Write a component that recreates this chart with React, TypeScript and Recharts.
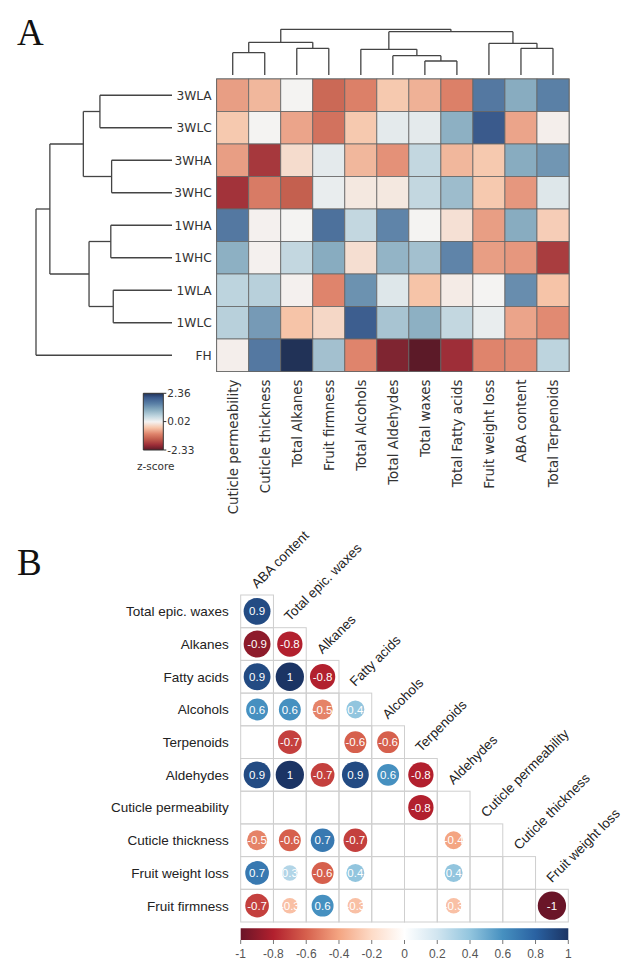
import React from 'react';
import { ReferenceArea, ReferenceLine, Scatter, ScatterChart, XAxis, YAxis } from 'recharts';

const W = 644;
const H = 972;

// ---------- panel A data ----------
const sampleNames = ['3WLA', '3WLC', '3WHA', '3WHC', '1WHA', '1WHC', '1WLA', '1WLC', 'FH'];
const traitNames = [
  'Cuticle permeability',
  'Cuticle thickness',
  'Total Alkanes',
  'Fruit firmness',
  'Total Alcohols',
  'Total Aldehydes',
  'Total waxes',
  'Total Fatty acids',
  'Fruit weight loss',
  'ABA content',
  'Total Terpenoids',
];
// z-scores, one row per sample, columns in traitNames order
const zScores = [
  [-0.8, -0.6, 0.0, -1.3, -1.05, -0.45, -0.65, -1.05, 1.6, 1.0, 1.5],
  [-0.45, 0.0, -0.75, -1.2, -0.45, 0.15, 0.15, 0.95, 2.0, -0.75, -0.05],
  [-0.8, -1.8, -0.25, 0.15, -0.6, -0.9, 0.45, -0.6, -0.45, 1.0, 1.25],
  [-1.85, -1.1, -1.4, 0.1, -0.12, -0.12, 0.45, 0.8, -0.45, -0.85, 0.2],
  [1.6, -0.03, 0.0, 1.7, 0.45, 1.45, 0.0, -0.2, -0.8, 1.0, -0.4],
  [0.95, -0.03, 0.45, 1.0, -0.22, 0.9, 0.75, 1.45, -0.8, -0.85, -1.75],
  [0.5, 0.55, -0.03, -1.0, 1.3, 0.2, -0.5, -0.08, 0.0, 1.35, -0.5],
  [0.55, 1.2, -0.5, -0.3, 1.95, 0.7, 0.95, 0.45, 0.1, -0.75, -0.95],
  [-0.05, 1.6, 2.36, 0.75, -1.0, -2.1, -2.33, -1.9, -1.0, -0.95, 0.5],
];
const zTicks = [-2.33, 0.02, 2.36];
// linkages [left node, right node, height]; leaves are numbered in display order
const rowLinkage: [number, number, number][] = [
  [0, 1, 2.65],
  [2, 3, 2.22],
  [9, 10, 3.26],
  [4, 5, 2.25],
  [6, 7, 2.16],
  [12, 13, 3.05],
  [11, 14, 4.49],
  [15, 8, 5.0],
];
const colLinkage: [number, number, number][] = [
  [0, 1, 2.44],
  [2, 3, 2.92],
  [11, 12, 3.58],
  [6, 7, 1.53],
  [5, 14, 2.11],
  [4, 15, 2.81],
  [9, 10, 2.92],
  [8, 17, 3.47],
  [16, 18, 4.74],
  [13, 19, 5.0],
];

// ---------- panel B data ----------
const corrRowNames = [
  'Total epic. waxes',
  'Alkanes',
  'Fatty acids',
  'Alcohols',
  'Terpenoids',
  'Aldehydes',
  'Cuticle permeability',
  'Cuticle thickness',
  'Fruit weight loss',
  'Fruit firmness',
];
const corrColNames = [
  'ABA content',
  'Total epic. waxes',
  'Alkanes',
  'Fatty acids',
  'Alcohols',
  'Terpenoids',
  'Aldehydes',
  'Cuticle permeability',
  'Cuticle thickness',
  'Fruit weight loss',
];
const corrValues: (number | null)[][] = [
  [0.9],
  [-0.9, -0.8],
  [0.9, 1, -0.8],
  [0.6, 0.6, -0.5, 0.4],
  [null, -0.7, null, -0.6, -0.6],
  [0.9, 1, -0.7, 0.9, 0.6, -0.8],
  [null, null, null, null, null, -0.8, null],
  [-0.5, -0.6, 0.7, -0.7, null, null, -0.4, null],
  [0.7, 0.3, -0.6, 0.4, null, null, 0.4, null, null],
  [-0.7, -0.3, 0.6, -0.3, null, null, -0.3, null, null, -1],
];
const corrTicks = [-1, -0.8, -0.6, -0.4, -0.2, 0, 0.2, 0.4, 0.6, 0.8, 1];

// ---------- colours ----------
const zStops: [number, string][] = [
  [-2.33, '#5c1a28'],
  [-1.9, '#9e2e38'],
  [-1.4, '#c4604f'],
  [-1.0, '#df846c'],
  [-0.5, '#f6c4a8'],
  [0, '#f4f3f2'],
  [0.5, '#bdd4de'],
  [1.0, '#88acc0'],
  [1.5, '#5a80a6'],
  [2.0, '#3a5a8c'],
  [2.36, '#213257'],
];
const rdbuStops: [number, string][] = [
  [-1, '#6a1528'],
  [-0.8, '#b2202e'],
  [-0.6, '#d6604d'],
  [-0.4, '#f4a582'],
  [-0.2, '#fddbc7'],
  [0, '#ffffff'],
  [0.2, '#d1e5f0'],
  [0.4, '#92c5de'],
  [0.6, '#4690c0'],
  [0.8, '#2a62a2'],
  [1, '#1b3464'],
];

function hex(c: string) {
  return [1, 3, 5].map((i) => parseInt(c.slice(i, i + 2), 16));
}
function colorAt(stops: [number, string][], v: number) {
  if (v <= stops[0][0]) return stops[0][1];
  for (let i = 1; i < stops.length; i++) {
    if (v <= stops[i][0]) {
      const [v0, c0] = stops[i - 1];
      const [v1, c1] = stops[i];
      const t = (v - v0) / (v1 - v0);
      const a = hex(c0);
      const b = hex(c1);
      return `rgb(${a.map((x, k) => Math.round(x + (b[k] - x) * t)).join(',')})`;
    }
  }
  return stops[stops.length - 1][1];
}

function linkSegments(links: [number, number, number][], leaves: number) {
  const pos: number[] = [];
  const hgt: number[] = [];
  for (let i = 0; i < leaves; i++) {
    pos.push(i + 0.5);
    hgt.push(0);
  }
  const segs: { p1: number; h1: number; p2: number; h2: number }[] = [];
  links.forEach(([a, b, h]) => {
    segs.push({ p1: pos[a], h1: hgt[a], p2: pos[a], h2: h });
    segs.push({ p1: pos[b], h1: hgt[b], p2: pos[b], h2: h });
    segs.push({ p1: pos[a], h1: h, p2: pos[b], h2: h });
    pos.push((pos[a] + pos[b]) / 2);
    hgt.push(h);
  });
  return segs;
}

// ---------- layout ----------
const hm = { left: 216.7, right: 569, top: 79, bottom: 371.5 };
const cellW = (hm.right - hm.left) / traitNames.length;
const cellH = (hm.bottom - hm.top) / sampleNames.length;
const cb = { left: 240.7, right: 568.3, top: 595, bottom: 922 };
const cW = (cb.right - cb.left) / corrColNames.length;
const cH = (cb.bottom - cb.top) / corrRowNames.length;

const layer: React.CSSProperties = { position: 'absolute', left: 0, top: 0 };
const fontA = 'DejaVu Sans, Verdana, sans-serif';
const fontB = 'Liberation Sans, Arial, sans-serif';

const heatCells = zScores.flatMap((row, r) => row.map((z, c) => ({ x: c + 0.5, y: r + 0.5, z })));

function TraitTick(props: any) {
  const { x, y, payload } = props;
  const name = traitNames[Math.floor(payload.value)];
  return (
    <text
      x={x}
      y={y}
      dy="0.36em"
      transform={`rotate(-90 ${x} ${y})`}
      textAnchor="end"
      fontSize={13.4}
      fontFamily={fontA}
      fill="#333"
    >
      {name}
    </text>
  );
}

function SampleTick(props: any) {
  const { x, y, payload } = props;
  return (
    <text x={x} y={y} dy="0.36em" textAnchor="end" fontSize={12.2} fontFamily={fontA} fill="#333">
      {sampleNames[Math.floor(payload.value)]}
    </text>
  );
}

function HeatCell(props: any) {
  const { cx, cy, payload } = props;
  return (
    <rect
      x={cx - cellW / 2}
      y={cy - cellH / 2}
      width={cellW}
      height={cellH}
      fill={colorAt(zStops, payload.z)}
      stroke="#666"
      strokeWidth={0.8}
    />
  );
}

function Heatmap() {
  return (
    <ScatterChart
      width={W}
      height={H}
      margin={{ top: hm.top, left: hm.left - 60, right: W - hm.right, bottom: H - hm.bottom - 160 }}
    >
      <XAxis
        type="number"
        dataKey="x"
        domain={[0, traitNames.length]}
        ticks={traitNames.map((_, i) => i + 0.5)}
        interval={0}
        height={160}
        tickSize={0}
        tickMargin={8}
        axisLine={false}
        tickLine={false}
        tick={<TraitTick />}
      />
      <YAxis
        type="number"
        dataKey="y"
        domain={[0, sampleNames.length]}
        reversed
        ticks={sampleNames.map((_, i) => i + 0.5)}
        interval={0}
        width={60}
        tickSize={0}
        tickMargin={5}
        axisLine={false}
        tickLine={false}
        tick={<SampleTick />}
      />
      <Scatter data={heatCells} isAnimationActive={false} shape={HeatCell} />
      <ReferenceArea
        x1={0}
        x2={traitNames.length}
        y1={0}
        y2={sampleNames.length}
        fill="none"
        stroke="#555"
        strokeWidth={1.2}
        ifOverflow="visible"
      />
    </ScatterChart>
  );
}

const Nothing = () => <g />;

function ColDendrogram() {
  const segs = linkSegments(colLinkage, traitNames.length);
  const top = Math.max(...colLinkage.map((l) => l[2]));
  return (
    <ScatterChart width={W} height={H} margin={{ top: 29.3, left: hm.left, right: W - hm.right, bottom: H - 75 }}>
      <XAxis type="number" dataKey="x" domain={[0, traitNames.length]} hide />
      <YAxis type="number" dataKey="y" domain={[0, top]} hide />
      <Scatter
        data={traitNames.map((_, i) => ({ x: i + 0.5, y: 0 }))}
        isAnimationActive={false}
        shape={Nothing}
      />
      {segs.map((s, i) => (
        <ReferenceLine
          key={i}
          segment={[
            { x: s.p1, y: s.h1 },
            { x: s.p2, y: s.h2 },
          ]}
          stroke="#444"
          strokeWidth={1.3}
          ifOverflow="visible"
        />
      ))}
    </ScatterChart>
  );
}

function RowDendrogram() {
  const segs = linkSegments(rowLinkage, sampleNames.length);
  const top = Math.max(...rowLinkage.map((l) => l[2]));
  return (
    <ScatterChart width={W} height={H} margin={{ top: hm.top, left: 36, right: W - 172, bottom: H - hm.bottom }}>
      <XAxis type="number" dataKey="x" domain={[0, top]} reversed hide />
      <YAxis type="number" dataKey="y" domain={[0, sampleNames.length]} reversed hide />
      <Scatter
        data={sampleNames.map((_, i) => ({ x: 0, y: i + 0.5 }))}
        isAnimationActive={false}
        shape={Nothing}
      />
      {segs.map((s, i) => (
        <ReferenceLine
          key={i}
          segment={[
            { x: s.h1, y: s.p1 },
            { x: s.h2, y: s.p2 },
          ]}
          stroke="#444"
          strokeWidth={1.3}
          ifOverflow="visible"
        />
      ))}
    </ScatterChart>
  );
}

function ZColorbar() {
  const zMin = zTicks[0];
  const zMax = zTicks[zTicks.length - 1];
  return (
    <ScatterChart width={W} height={H} margin={{ top: 393.3, left: 143.3, right: W - 163.3 - 40, bottom: H - 450 }}>
      <defs>
        <linearGradient id="zbar" x1="0" y1="0" x2="0" y2="1">
          {zStops
            .slice()
            .reverse()
            .map(([v, c]) => (
              <stop key={v} offset={(zMax - v) / (zMax - zMin)} stopColor={c} />
            ))}
        </linearGradient>
      </defs>
      <XAxis type="number" dataKey="x" domain={[0, 1]} hide />
      <YAxis
        type="number"
        dataKey="y"
        orientation="right"
        domain={[zMin, zMax]}
        ticks={zTicks}
        interval={0}
        width={40}
        tickSize={3}
        tickMargin={1}
        axisLine={false}
        tickLine={{ stroke: '#333' }}
        tick={{ fontSize: 10.5, fill: '#333', fontFamily: fontA }}
        tickFormatter={(v: number) => v.toFixed(2)}
      />
      <Scatter data={[{ x: 0, y: zMin }, { x: 1, y: zMax }]} isAnimationActive={false} shape={Nothing} />
      <ReferenceArea x1={0} x2={1} y1={zMin} y2={zMax} fill="url(#zbar)" fillOpacity={1} stroke="#333" strokeWidth={1} />
      <text x={137} y={466} dy="0.36em" fontSize={10.5} fontFamily={fontA} fill="#333">
        z-score
      </text>
    </ScatterChart>
  );
}

const gridCells = corrRowNames.flatMap((_, i) =>
  corrColNames.slice(0, i + 1).map((__, j) => ({ x: j + 0.5, y: i + 0.5 }))
);
const corrPoints = corrValues.flatMap((row, i) =>
  row.flatMap((v, j) => (v === null ? [] : [{ x: j + 0.5, y: i + 0.5, r: v }]))
);
const colLabelPts = corrColNames.map((name, j) => ({ x: j + 0.5, y: j, name }));

function GridCell(props: any) {
  const { cx, cy } = props;
  return (
    <rect x={cx - cW / 2} y={cy - cH / 2} width={cW} height={cH} fill="none" stroke="#cfcfcf" strokeWidth={1} />
  );
}

function CorrCircle(props: any) {
  const { cx, cy, payload } = props;
  const v = payload.r;
  const rad = cW * 0.432 * Math.sqrt(Math.abs(v));
  const label = Number.isInteger(v) ? String(v) : v.toFixed(1);
  return (
    <g>
      <circle cx={cx} cy={cy} r={rad} fill={colorAt(rdbuStops, v)} />
      <text x={cx} y={cy} dy="0.36em" textAnchor="middle" fontSize={11.5} fontFamily={fontB} fill="#fff">
        {label}
      </text>
    </g>
  );
}

function CorrColLabel(props: any) {
  const { cx, cy, payload } = props;
  const x = cx;
  const y = cy - 6;
  return (
    <text x={x} y={y} transform={`rotate(-45 ${x} ${y})`} fontSize={13.5} fontFamily={fontB} fill="#222">
      {payload.name}
    </text>
  );
}

function CorrRowTick(props: any) {
  const { x, y, payload } = props;
  return (
    <text x={x} y={y} dy="0.36em" textAnchor="end" fontSize={13.5} fontFamily={fontB} fill="#222">
      {corrRowNames[Math.floor(payload.value)]}
    </text>
  );
}

function CorrPlot() {
  return (
    <ScatterChart
      width={W}
      height={H}
      margin={{ top: cb.top, left: cb.left - 100, right: W - cb.right, bottom: H - cb.bottom }}
    >
      <XAxis type="number" dataKey="x" domain={[0, corrColNames.length]} hide />
      <YAxis
        type="number"
        dataKey="y"
        domain={[0, corrRowNames.length]}
        reversed
        ticks={corrRowNames.map((_, i) => i + 0.5)}
        interval={0}
        width={100}
        tickSize={0}
        tickMargin={12}
        axisLine={false}
        tickLine={false}
        tick={<CorrRowTick />}
      />
      <Scatter data={gridCells} isAnimationActive={false} shape={GridCell} />
      <Scatter data={corrPoints} isAnimationActive={false} shape={CorrCircle} />
      <Scatter data={colLabelPts} isAnimationActive={false} shape={CorrColLabel} />
    </ScatterChart>
  );
}

function CorrColorbar() {
  return (
    <ScatterChart width={W} height={H} margin={{ top: 928.3, left: cb.left, right: W - cb.right, bottom: H - 940 - 30 }}>
      <defs>
        <linearGradient id="rdbu" x1="0" y1="0" x2="1" y2="0">
          {rdbuStops.map(([v, c]) => (
            <stop key={v} offset={(v + 1) / 2} stopColor={c} />
          ))}
        </linearGradient>
      </defs>
      <XAxis
        type="number"
        dataKey="x"
        domain={[-1, 1]}
        ticks={corrTicks}
        interval={0}
        height={30}
        tickSize={4}
        tickMargin={5}
        axisLine={false}
        tickLine={{ stroke: '#777' }}
        tick={{ fontSize: 12, fill: '#555', fontFamily: fontB }}
        tickFormatter={(v: number) => String(Number(v.toFixed(1)))}
      />
      <YAxis type="number" dataKey="y" domain={[0, 1]} hide />
      <Scatter data={[{ x: -1, y: 0 }, { x: 1, y: 1 }]} isAnimationActive={false} shape={Nothing} />
      <ReferenceArea x1={-1} x2={1} y1={0} y2={1} fill="url(#rdbu)" fillOpacity={1} />
    </ScatterChart>
  );
}

export default function App() {
  return (
    <div style={{ position: 'absolute', left: 0, top: 0, width: W, height: H, background: '#fff', overflow: 'hidden' }}>
      <div style={layer}>
        <Heatmap />
      </div>
      <div style={layer}>
        <ColDendrogram />
      </div>
      <div style={layer}>
        <RowDendrogram />
      </div>
      <div style={layer}>
        <ZColorbar />
      </div>
      <div style={layer}>
        <CorrPlot />
      </div>
      <div style={layer}>
        <CorrColorbar />
      </div>
      <svg width={W} height={H} style={{ ...layer, pointerEvents: 'none' }}>
        <text x={17} y={45} fontSize={37} fontFamily="Liberation Serif, Times New Roman, serif" fill="#111">
          A
        </text>
        <text x={17} y={575} fontSize={37} fontFamily="Liberation Serif, Times New Roman, serif" fill="#111">
          B
        </text>
      </svg>
    </div>
  );
}
